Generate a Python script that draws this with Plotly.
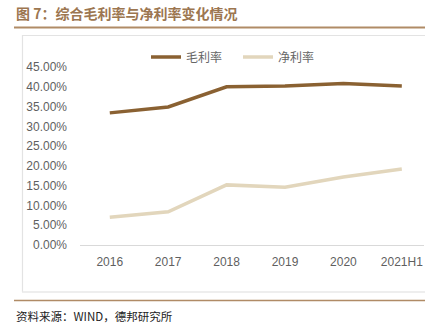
import plotly.graph_objects as go

categories = ["2016", "2017", "2018", "2019", "2020", "2021H1"]
gross_margin = [33.4, 34.9, 40.0, 40.2, 40.8, 40.2]
net_margin = [7.0, 8.4, 15.2, 14.6, 17.2, 19.2]
y_ticks = [0, 5, 10, 15, 20, 25, 30, 35, 40, 45]
series_names = ["毛利率", "净利率"]

W, H = 444, 330
FONT = "Noto Sans CJK SC"

fig = go.Figure()
fig.add_trace(go.Scatter(x=categories, y=gross_margin, name=series_names[0], mode="lines",
                         line=dict(color="#8a6132", width=3.5)))
fig.add_trace(go.Scatter(x=categories, y=net_margin, name=series_names[1], mode="lines",
                         line=dict(color="#e2d6bc", width=3.5)))

plot_l, plot_r = 80, W - 20
plot_t, plot_b = 67, H - 85
pw, ph = plot_r - plot_l, plot_b - plot_t

def to_paper_x(x):
    return (x - plot_l) / pw

def to_paper_y(y):
    return (plot_b - y) / ph

fig.update_layout(
    width=W, height=H,
    margin=dict(l=plot_l, r=W - plot_r, t=plot_t, b=H - plot_b, autoexpand=False),
    paper_bgcolor="white", plot_bgcolor="white",
    font=dict(family=FONT, size=12, color="#595959"),
    showlegend=True,
    legend=dict(orientation="h", xref="paper", yref="paper",
                x=to_paper_x(146), y=to_paper_y(57), xanchor="left", yanchor="middle",
                font=dict(family=FONT, size=12, color="#666666"),
                bgcolor="rgba(0,0,0,0)", entrywidth=47, entrywidthmode="pixels",
                tracegroupgap=0),
    xaxis=dict(type="category", range=[-0.51, 5.38], showgrid=False, zeroline=False,
               showline=True, linecolor="#d9d9d9", linewidth=1, ticks="",
               tickfont=dict(family="Liberation Sans, Arial", size=12, color="#5f5f5f"),
               ticklabelstandoff=6),
    yaxis=dict(range=[0, 45], tickvals=y_ticks, ticktext=[f"{v:.2f}%" for v in y_ticks],
               showgrid=False, zeroline=False, showline=False, ticks="",
               tickfont=dict(family="Liberation Sans, Arial", size=12, color="#5f5f5f"),
               ticklabelstandoff=12),
)

def line(x0, y0, x1, y1, color, width):
    return dict(type="line", xref="paper", yref="paper",
                x0=to_paper_x(x0), x1=to_paper_x(x1), y0=to_paper_y(y0), y1=to_paper_y(y1),
                line=dict(color=color, width=width), layer="below")

fig.update_layout(shapes=[
    line(14, 27.5, 425, 27.5, "#b08b66", 2),
    line(22.5, 35, 22.5, 292, "#e3e3e3", 1.2),
    line(22, 35.5, 425, 35.5, "#e3e3e3", 1.2),
    line(22, 292, 425, 292, "#e8e8e8", 1.5),
    line(14, 300.5, 425, 300.5, "#b08b66", 1.5),
])

fig.add_annotation(text="图 7：综合毛利率与净利率变化情况", xref="paper", yref="paper",
                   x=to_paper_x(14), y=to_paper_y(13), xanchor="left", yanchor="middle",
                   showarrow=False, font=dict(family=FONT, size=14, color="#9c7650", weight="bold"))
fig.add_annotation(text="资料来源：WIND，德邦研究所", xref="paper", yref="paper",
                   x=to_paper_x(14), y=to_paper_y(316), xanchor="left", yanchor="middle",
                   showarrow=False, font=dict(family=FONT, size=11.5, color="#222222"))

fig.write_html("out.html")
